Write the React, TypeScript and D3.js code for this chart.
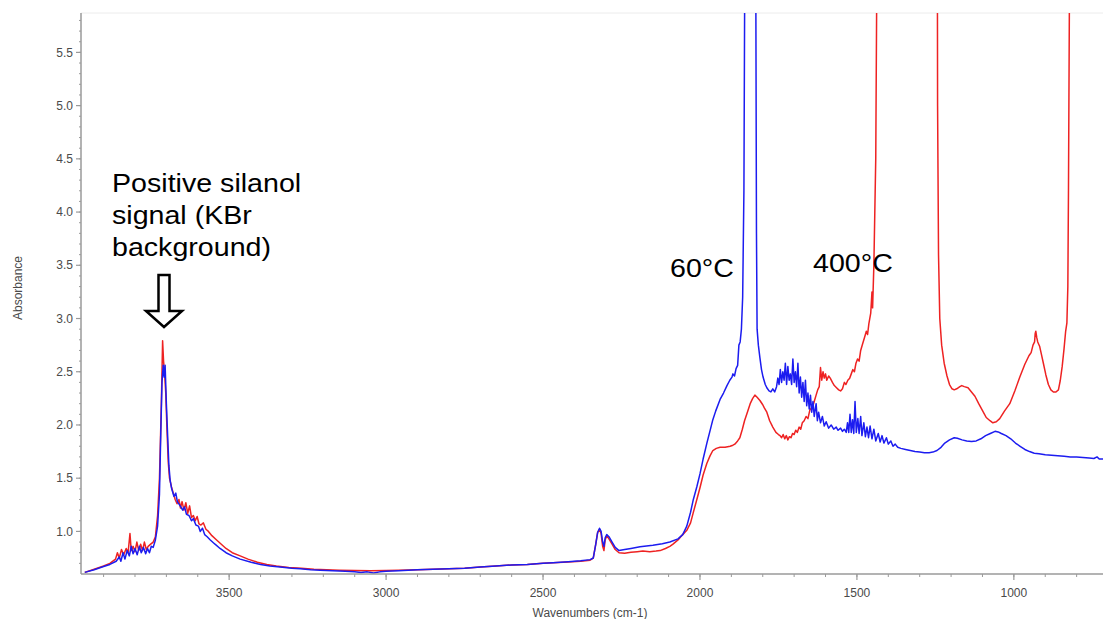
import React from "react";
import * as d3 from "d3";

// Wavenumber ticks (cm-1) and absorbance ticks
const xMajorTicks = [3500, 3000, 2500, 2000, 1500, 1000];
const xMinorTicks = d3.range(3900, 700, -100);
const yMajorTicks = [1.0, 1.5, 2.0, 2.5, 3.0, 3.5, 4.0, 4.5, 5.0, 5.5];
const yMinorTicks = d3.range(0.7, 5.85, 0.1);

// 60°C spectrum (blue): [wavenumber, absorbance]
const spectrum60C: [number, number][] = [
  [3960, 0.615], [3930, 0.64], [3900, 0.67], [3880, 0.69], [3860, 0.72], [3850, 0.76], [3845, 0.72],
  [3838, 0.8], [3832, 0.74], [3825, 0.82], [3818, 0.77], [3812, 0.86], [3806, 0.79], [3800, 0.84],
  [3793, 0.78], [3786, 0.86], [3780, 0.8], [3773, 0.85], [3766, 0.79], [3760, 0.84], [3754, 0.8],
  [3748, 0.86], [3742, 0.85], [3735, 0.92], [3728, 1.05], [3722, 1.35], [3718, 1.9], [3714, 2.4],
  [3710, 2.56], [3707, 2.45], [3704, 2.56], [3700, 2.2], [3696, 1.9], [3692, 1.62], [3688, 1.48],
  [3683, 1.4], [3676, 1.33], [3670, 1.36], [3665, 1.28], [3656, 1.24], [3648, 1.2], [3642, 1.23],
  [3636, 1.16], [3628, 1.15], [3620, 1.1], [3614, 1.12], [3606, 1.06], [3598, 1.05], [3592, 1.0],
  [3585, 1.03], [3578, 0.97], [3570, 0.95], [3560, 0.92], [3545, 0.88], [3529, 0.84], [3510, 0.8],
  [3490, 0.77], [3465, 0.74], [3430, 0.71], [3400, 0.69], [3370, 0.675], [3338, 0.665], [3300, 0.655],
  [3274, 0.65], [3240, 0.64], [3210, 0.635], [3170, 0.63], [3130, 0.625], [3100, 0.62], [3080, 0.615],
  [3060, 0.62], [3040, 0.61], [3020, 0.62], [3000, 0.625], [2960, 0.63], [2900, 0.64], [2850, 0.645],
  [2800, 0.65], [2750, 0.655], [2700, 0.665], [2650, 0.675], [2600, 0.685], [2550, 0.69], [2500, 0.7],
  [2468, 0.705], [2420, 0.715], [2380, 0.725], [2350, 0.735], [2340, 0.75], [2332, 0.88], [2326, 0.99],
  [2320, 1.03], [2315, 1.0], [2310, 0.9], [2306, 0.86], [2302, 0.94], [2297, 0.97], [2290, 0.95],
  [2280, 0.9], [2270, 0.85], [2258, 0.82], [2240, 0.83], [2220, 0.84], [2191, 0.855], [2150, 0.87],
  [2120, 0.885], [2096, 0.9], [2070, 0.93], [2055, 0.97], [2042, 1.05], [2030, 1.18], [2022, 1.29],
  [2010, 1.42], [2000, 1.54], [1990, 1.68], [1978, 1.83], [1965, 1.98], [1959, 2.05], [1950, 2.13],
  [1936, 2.24], [1925, 2.3], [1914, 2.37], [1905, 2.42], [1898, 2.45], [1895, 2.48], [1890, 2.46],
  [1885, 2.53], [1880, 2.56], [1876, 2.75], [1872, 2.78], [1868, 2.9], [1864, 3.2], [1860, 4.2],
  [1857, 6.5], [1855, 9], [1824, 9], [1822, 6], [1820, 3.8], [1818, 2.9], [1814, 2.75], [1809, 2.63],
  [1804, 2.52], [1799, 2.45], [1792, 2.38], [1787, 2.35], [1780, 2.32], [1774, 2.31], [1768, 2.34],
  [1762, 2.31], [1756, 2.36], [1752, 2.44], [1748, 2.38], [1744, 2.52], [1740, 2.4], [1736, 2.5],
  [1732, 2.42], [1728, 2.58], [1724, 2.38], [1720, 2.55], [1716, 2.42], [1712, 2.48], [1708, 2.38],
  [1704, 2.62], [1700, 2.4], [1696, 2.5], [1692, 2.36], [1688, 2.58], [1684, 2.3], [1680, 2.45],
  [1676, 2.26], [1672, 2.4], [1668, 2.22], [1664, 2.42], [1660, 2.18], [1656, 2.3], [1652, 2.15],
  [1648, 2.28], [1644, 2.12], [1640, 2.22], [1636, 2.08], [1630, 2.2], [1626, 2.04], [1622, 2.12],
  [1616, 2.02], [1610, 2.08], [1604, 1.99], [1598, 2.03], [1590, 1.97], [1582, 2.0], [1574, 1.96],
  [1566, 1.98], [1560, 1.95], [1552, 1.97], [1546, 1.94], [1540, 1.96], [1534, 1.93], [1530, 2.02],
  [1526, 1.93], [1522, 2.1], [1518, 1.93], [1514, 2.05], [1510, 1.92], [1506, 2.22], [1502, 1.93],
  [1497, 2.06], [1493, 1.92], [1488, 2.08], [1484, 1.9], [1478, 2.02], [1473, 1.89], [1468, 1.98],
  [1463, 1.88], [1458, 1.99], [1452, 1.87], [1446, 1.96], [1440, 1.85], [1432, 1.92], [1426, 1.84],
  [1420, 1.9], [1414, 1.83], [1406, 1.88], [1400, 1.82], [1392, 1.85], [1385, 1.8], [1378, 1.82],
  [1370, 1.79], [1360, 1.78], [1345, 1.77], [1330, 1.76], [1315, 1.75], [1300, 1.745], [1285, 1.74],
  [1270, 1.74], [1258, 1.745], [1245, 1.76], [1232, 1.79], [1220, 1.83], [1205, 1.86], [1190, 1.88],
  [1180, 1.875], [1165, 1.86], [1150, 1.85], [1135, 1.845], [1120, 1.85], [1105, 1.87], [1090, 1.9],
  [1075, 1.92], [1060, 1.94], [1050, 1.935], [1040, 1.92], [1025, 1.9], [1010, 1.87], [995, 1.83],
  [980, 1.8], [965, 1.77], [950, 1.75], [935, 1.735], [920, 1.73], [900, 1.72], [880, 1.715],
  [860, 1.71], [840, 1.705], [820, 1.7], [800, 1.7], [780, 1.695], [760, 1.69], [745, 1.685],
  [735, 1.7], [728, 1.68], [716, 1.68],
];

// 400°C spectrum (red): [wavenumber, absorbance]
const spectrum400C: [number, number][] = [
  [3960, 0.615], [3930, 0.645], [3900, 0.675], [3880, 0.7], [3862, 0.74], [3856, 0.8], [3850, 0.75],
  [3843, 0.83], [3836, 0.78], [3828, 0.84], [3822, 0.8], [3816, 0.98], [3812, 0.82], [3806, 0.86],
  [3800, 0.81], [3794, 0.9], [3788, 0.82], [3782, 0.88], [3776, 0.82], [3770, 0.9], [3764, 0.83],
  [3758, 0.86], [3750, 0.88], [3742, 0.9], [3735, 0.95], [3728, 1.15], [3722, 1.5], [3716, 2.2],
  [3712, 2.79], [3709, 2.6], [3706, 2.5], [3702, 2.3], [3698, 1.95], [3694, 1.65], [3690, 1.5],
  [3684, 1.42], [3678, 1.36], [3672, 1.3], [3666, 1.26], [3660, 1.3], [3655, 1.22], [3650, 1.28],
  [3644, 1.2], [3638, 1.27], [3632, 1.17], [3626, 1.24], [3620, 1.13], [3614, 1.15], [3608, 1.1],
  [3602, 1.14], [3596, 1.07], [3590, 1.06], [3582, 1.08], [3574, 1.02], [3566, 1.0], [3555, 0.96],
  [3540, 0.92], [3525, 0.88], [3510, 0.84], [3490, 0.8], [3465, 0.77], [3440, 0.74], [3410, 0.71],
  [3380, 0.69], [3350, 0.675], [3310, 0.66], [3270, 0.655], [3230, 0.645], [3190, 0.64], [3150, 0.635],
  [3100, 0.632], [3050, 0.63], [3000, 0.632], [2960, 0.635], [2900, 0.64], [2850, 0.645], [2800, 0.65],
  [2750, 0.655], [2700, 0.665], [2650, 0.675], [2600, 0.685], [2550, 0.69], [2500, 0.7], [2468, 0.705],
  [2420, 0.712], [2380, 0.72], [2350, 0.73], [2340, 0.75], [2332, 0.88], [2326, 0.99], [2320, 1.02],
  [2315, 0.98], [2310, 0.86], [2306, 0.82], [2302, 0.92], [2297, 0.96], [2290, 0.93], [2280, 0.88],
  [2270, 0.83], [2258, 0.8], [2240, 0.795], [2220, 0.805], [2200, 0.81], [2182, 0.815], [2160, 0.81],
  [2140, 0.815], [2127, 0.82], [2110, 0.84], [2096, 0.86], [2086, 0.88], [2070, 0.92], [2055, 0.97],
  [2042, 1.01], [2030, 1.08], [2022, 1.17], [2010, 1.3], [2000, 1.41], [1990, 1.53], [1978, 1.64],
  [1968, 1.71], [1959, 1.76], [1948, 1.78], [1936, 1.79], [1920, 1.79], [1904, 1.8], [1895, 1.81],
  [1889, 1.82], [1880, 1.85], [1873, 1.88], [1865, 1.96], [1858, 2.04], [1850, 2.11], [1840, 2.2],
  [1832, 2.25], [1825, 2.28], [1818, 2.26], [1809, 2.23], [1800, 2.19], [1795, 2.16], [1787, 2.12],
  [1778, 2.04], [1768, 1.98], [1758, 1.93], [1750, 1.91], [1745, 1.9], [1740, 1.88], [1735, 1.91],
  [1730, 1.87], [1725, 1.9], [1720, 1.86], [1715, 1.89], [1710, 1.88], [1705, 1.92], [1700, 1.91],
  [1695, 1.95], [1690, 1.93], [1684, 1.98], [1679, 1.96], [1674, 2.02], [1668, 2.04], [1662, 2.08],
  [1656, 2.06], [1650, 2.14], [1645, 2.16], [1640, 2.18], [1636, 2.22], [1630, 2.28], [1625, 2.33],
  [1620, 2.36], [1616, 2.54], [1612, 2.42], [1608, 2.5], [1604, 2.44], [1600, 2.48], [1596, 2.42],
  [1590, 2.46], [1585, 2.44], [1578, 2.4], [1572, 2.37], [1565, 2.35], [1558, 2.33], [1552, 2.32],
  [1546, 2.34], [1540, 2.4], [1535, 2.38], [1529, 2.42], [1523, 2.44], [1518, 2.48], [1513, 2.52],
  [1508, 2.5], [1503, 2.58], [1498, 2.62], [1493, 2.6], [1488, 2.7], [1482, 2.76], [1476, 2.82],
  [1470, 2.88], [1466, 2.85], [1462, 2.95], [1456, 3.05], [1452, 3.25], [1450, 3.1], [1446, 3.5],
  [1440, 4.5], [1435, 7], [1430, 9], [1245, 9], [1243, 5], [1240, 3.6], [1236, 3.0], [1230, 2.75],
  [1222, 2.58], [1213, 2.46], [1205, 2.38], [1197, 2.34], [1190, 2.33], [1182, 2.34], [1172, 2.36],
  [1166, 2.37], [1158, 2.36], [1146, 2.35], [1135, 2.31], [1124, 2.27], [1112, 2.2], [1099, 2.13],
  [1088, 2.07], [1076, 2.04], [1067, 2.02], [1056, 2.03], [1045, 2.06], [1030, 2.13], [1013, 2.2],
  [997, 2.32], [981, 2.45], [965, 2.57], [952, 2.65], [945, 2.68], [939, 2.75], [934, 2.78],
  [932, 2.86], [930, 2.88], [927, 2.82], [924, 2.78], [918, 2.74], [912, 2.66], [906, 2.58],
  [898, 2.47], [890, 2.38], [882, 2.33], [874, 2.31], [866, 2.31], [858, 2.33], [852, 2.42],
  [846, 2.55], [840, 2.72], [835, 2.88], [831, 2.96], [828, 3.3], [826, 4.2], [823, 6], [820, 9],
];

const annotationLines = ["Positive silanol", "signal (KBr", "background)"];

const W = 1103;
const H = 619;
const left = 81;
const right = 1103;
const top = 13;
const bottom = 574;

const FONT = "'Liberation Sans', Arial, Helvetica, sans-serif";

export default function App() {
  const x = d3.scaleLinear().domain([3972, 716]).range([left, right]);
  const y = d3.scaleLinear().domain([0.6, 5.87]).range([bottom, top]);
  const line = d3
    .line<[number, number]>()
    .x((d) => x(d[0]))
    .y((d) => y(d[1]));

  const ax = "#9a9a9a";
  const lab = "#4a4a4a";
  const arrowCx = 164;

  return (
    <svg
      width={W}
      height={H}
      style={{ position: "absolute", left: 0, top: 0, background: "#fff" }}
    >
      <defs>
        <clipPath id="plot">
          <rect x={left} y={top} width={right - left} height={bottom - top} />
        </clipPath>
      </defs>
      <rect x={0} y={0} width={W} height={H} fill="#fff" />
      <line x1={left} x2={right} y1={top} y2={top} stroke="#ececec" strokeWidth={1} />

      {/* curves */}
      <g clipPath="url(#plot)" fill="none" strokeWidth={1.5} strokeLinejoin="round">
        <path d={line(spectrum400C) || ""} stroke="#ee2222" />
        <path d={line(spectrum60C) || ""} stroke="#1c1cf0" />
      </g>

      {/* y axis */}
      <line x1={left} x2={left} y1={top} y2={bottom} stroke={ax} strokeWidth={1.5} />
      {yMinorTicks.map((t) => (
        <line key={"ym" + t} x1={left - 2} x2={left} y1={y(t)} y2={y(t)} stroke={ax} strokeWidth={1} />
      ))}
      {yMajorTicks.map((t) => (
        <g key={"y" + t}>
          <line x1={left - 5} x2={left} y1={y(t)} y2={y(t)} stroke={ax} strokeWidth={1.2} />
          <text
            x={left - 8}
            y={y(t)}
            dy="0.35em"
            textAnchor="end"
            fontFamily={FONT}
            fontSize={12}
            fill={lab}
          >
            {t.toFixed(1)}
          </text>
        </g>
      ))}
      <text
        transform={`translate(22,${288}) rotate(-90)`}
        textAnchor="middle"
        fontFamily={FONT}
        fontSize={12}
        fill={lab}
      >
        Absorbance
      </text>

      {/* x axis */}
      <line x1={left} x2={right} y1={bottom} y2={bottom} stroke={ax} strokeWidth={1.5} />
      {xMinorTicks.map((t) => (
        <line key={"xm" + t} x1={x(t)} x2={x(t)} y1={bottom} y2={bottom + 3} stroke={ax} strokeWidth={1} />
      ))}
      {xMajorTicks.map((t) => (
        <g key={"x" + t}>
          <line x1={x(t)} x2={x(t)} y1={bottom} y2={bottom + 6} stroke={ax} strokeWidth={1.2} />
          <text
            x={x(t)}
            y={597}
            textAnchor="middle"
            fontFamily={FONT}
            fontSize={12}
            fill={lab}
          >
            {t}
          </text>
        </g>
      ))}
      <text x={590} y={617} textAnchor="middle" fontFamily={FONT} fontSize={12} fill={lab}>
        Wavenumbers (cm-1)
      </text>

      {/* annotations */}
      {annotationLines.map((s, i) => (
        <text
          key={s}
          transform={`translate(112,${192 + i * 32}) scale(1.1,1)`}
          fontFamily={FONT}
          fontSize={26}
          fill="#000"
        >
          {s}
        </text>
      ))}
      <path
        d={`M${arrowCx - 5.5},275 L${arrowCx + 5.5},275 L${arrowCx + 5.5},311 L${arrowCx + 18},311 L${arrowCx},327 L${arrowCx - 18},311 L${arrowCx - 5.5},311 Z`}
        fill="#fff"
        stroke="#000"
        strokeWidth={2.5}
        strokeLinejoin="miter"
      />
      <text transform="translate(670,277) scale(1.1,1)" fontFamily={FONT} fontSize={26} fill="#000">
        60°C
      </text>
      <text transform="translate(813,272) scale(1.1,1)" fontFamily={FONT} fontSize={26} fill="#000">
        400°C
      </text>
    </svg>
  );
}
